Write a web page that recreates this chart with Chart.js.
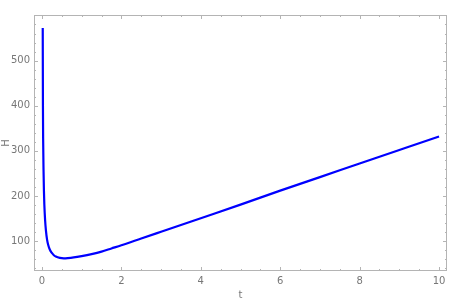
<!DOCTYPE html>
<html>
<head>
<meta charset="utf-8">
<script src="https://cdn.jsdelivr.net/npm/chart.js@4/dist/chart.umd.min.js"></script>
<style>
  html, body { margin: 0; padding: 0; background: #fff; }
  canvas { display: block; }
</style>
</head>
<body>
<canvas id="plot" width="463" height="301"></canvas>
<script>
// valores
const tValues = [0.02, 0.025, 0.03, 0.04, 0.05, 0.06, 0.08, 0.10, 0.13, 0.16, 0.20, 0.25, 0.30, 0.35, 0.45, 0.55, 0.65, 0.80, 1.0, 1.25, 1.5, 1.75, 2.0, 2.5, 3, 4, 5, 6, 7, 8, 9, 10];
const hValues = [572, 400, 328, 258, 212, 182, 146, 124, 103, 91, 81, 74, 69, 66, 63, 62, 62.5, 64, 67, 71.5, 77, 84, 91, 106, 121, 151, 181, 212, 242, 272, 302, 332];
const xTicks = [0, 2, 4, 6, 8, 10];
const yTicks = [100, 200, 300, 400, 500];
const xMinor = [0.5, 1, 1.5, 2.5, 3, 3.5, 4.5, 5, 5.5, 6.5, 7, 7.5, 8.5, 9, 9.5];
const yMinor = [40, 60, 80, 120, 140, 160, 180, 220, 240, 260, 280, 320, 340, 360, 380, 420, 440, 460, 480, 520, 540, 560, 580, 600];

const puntos = tValues.map((t, i) => ({ x: t, y: hValues[i] }));

// marco estilo Mathematica con marcas en los cuatro lados
const marco = {
    id: 'marco',
    afterDraw(chart) {
        const { ctx, chartArea: a, scales } = chart;
        ctx.save();
        ctx.strokeStyle = '#b4b4b4';
        ctx.lineWidth = 1;
        ctx.strokeRect(a.left + 0.5, a.top + 0.5, a.right - a.left - 1, a.bottom - a.top - 1);
        ctx.beginPath();
        const marcaX = (v, len) => {
            const px = Math.round(scales.x.getPixelForValue(v)) + 0.5;
            ctx.moveTo(px, a.bottom); ctx.lineTo(px, a.bottom - len);
            ctx.moveTo(px, a.top); ctx.lineTo(px, a.top + len);
        };
        const marcaY = (v, len) => {
            const py = Math.round(scales.y.getPixelForValue(v)) + 0.5;
            if (py < a.top || py > a.bottom) return;
            ctx.moveTo(a.left, py); ctx.lineTo(a.left + len, py);
            ctx.moveTo(a.right, py); ctx.lineTo(a.right - len, py);
        };
        xTicks.forEach(v => marcaX(v, 4));
        xMinor.forEach(v => marcaX(v, 2));
        yTicks.forEach(v => marcaY(v, 4));
        yMinor.forEach(v => marcaY(v, 2));
        ctx.stroke();
        ctx.restore();
    }
};

new Chart(document.getElementById('plot'), {
    type: 'scatter',
    data: {
        datasets: [{
            data: puntos,
            showLine: true,
            borderColor: '#0000ff',
            borderWidth: 2.2,
            pointRadius: 0,
            cubicInterpolationMode: 'monotone',
            fill: false
        }]
    },
    options: {
        responsive: false,
        animation: false,
        layout: { padding: { top: 15, right: 16, left: 0, bottom: 0 } },
        plugins: { legend: { display: false }, tooltip: { enabled: false } },
        scales: {
            x: {
                type: 'linear',
                min: -0.2,
                max: 10.2,
                afterBuildTicks: s => { s.ticks = xTicks.map(v => ({ value: v })); },
                afterFit: s => { s.height = 30; },
                grid: { display: false, drawTicks: false },
                border: { display: false },
                ticks: { color: '#777', font: { family: 'DejaVu Sans', size: 10 }, padding: 4, maxRotation: 0 },
                title: { display: true, text: 't', color: '#777', font: { family: 'DejaVu Sans', size: 10 }, padding: 0 }
            },
            y: {
                type: 'linear',
                min: 34,
                max: 601,
                afterBuildTicks: s => { s.ticks = yTicks.map(v => ({ value: v })); },
                afterFit: s => { s.width = 34; },
                grid: { display: false, drawTicks: false },
                border: { display: false },
                ticks: { color: '#777', font: { family: 'DejaVu Sans', size: 10 }, padding: 4 },
                title: { display: true, text: 'H', color: '#777', font: { family: 'DejaVu Sans', size: 10 }, padding: 0 }
            }
        }
    },
    plugins: [marco]
});
</script>
</body>
</html>
